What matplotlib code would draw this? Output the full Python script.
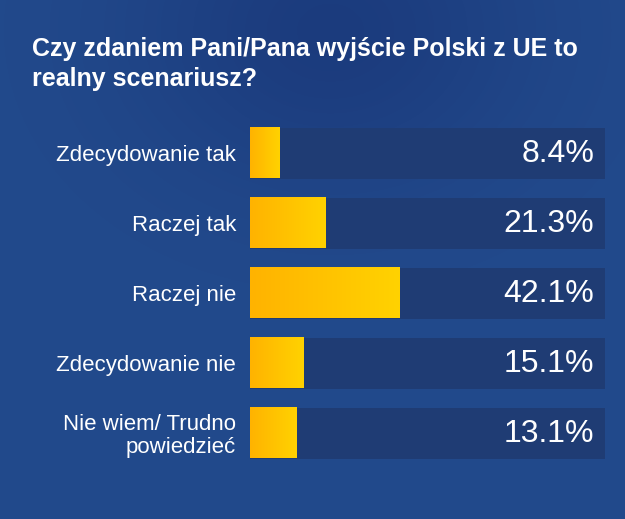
import numpy as np
import matplotlib.pyplot as plt
from matplotlib.colors import LinearSegmentedColormap

# data
categories = ["Zdecydowanie tak", "Raczej tak", "Raczej nie", "Zdecydowanie nie", "Nie wiem/ Trudno\npowiedzieć"]
values = [8.4, 21.3, 42.1, 15.1, 13.1]
value_labels = ["8.4%", "21.3%", "42.1%", "15.1%", "13.1%"]
title = "Czy zdaniem Pani/Pana wyjście Polski z UE to\nrealny scenariusz?"

plt.rcParams['font.family'] = ["Liberation Sans", "DejaVu Sans"]

W, H = 625, 519
fig = plt.figure(figsize=(W / 100, H / 100), dpi=100)

# background gradient
bg = fig.add_axes([0, 0, 1, 1])
yy, xx = np.mgrid[0:H, 0:W]
base = np.array([0x22, 0x4a, 0x8c]) / 255
dark = np.array([0x1a, 0x38, 0x7a]) / 255
w = np.exp(-(((xx - 330) / 200) ** 2) - ((yy - 30) / 160) ** 2) * 0.8
img = base[None, None, :] * (1 - w[..., None]) + dark[None, None, :] * w[..., None]
bg.imshow(img, extent=[0, W, H, 0], aspect='auto')
bg.set_xlim(0, W)
bg.set_ylim(H, 0)
bg.axis('off')

fig.text(32 / W, 1 - 37 / H, title, color='white', fontsize=18, fontweight='bold',
         ha='left', va='top', linespacing=1.32)

# bar axes
ax = fig.add_axes([250 / W, 1 - 468 / H, 355 / W, 350 / H])
ax.set_facecolor('none')
n = len(values)
pos = np.arange(n)
bh = 51 / 70
ax.barh(pos, [100] * n, height=bh, color='#1f3c74', zorder=1)
cmap = LinearSegmentedColormap.from_list('y', ['#ffb300', '#ffd200'])
grad = np.linspace(0, 1, 64).reshape(1, -1)
for i, v in enumerate(values):
    ax.imshow(grad, cmap=cmap, extent=[0, v, i + bh / 2, i - bh / 2],
              aspect='auto', zorder=2)
    ax.text(97, i + 0.02, value_labels[i], color='white', fontsize=23,
            ha='right', va='center', zorder=3)

ax.set_xlim(0, 100)
ax.set_ylim(n - 0.5, -0.5)
ax.set_yticks(pos)
ax.set_yticklabels(categories, color='white', fontsize=16, linespacing=1.12)
ax.tick_params(axis='y', length=0, pad=10)
ax.set_xticks([])
for s in ax.spines.values():
    s.set_visible(False)

fig.savefig('out.png', dpi=100)
